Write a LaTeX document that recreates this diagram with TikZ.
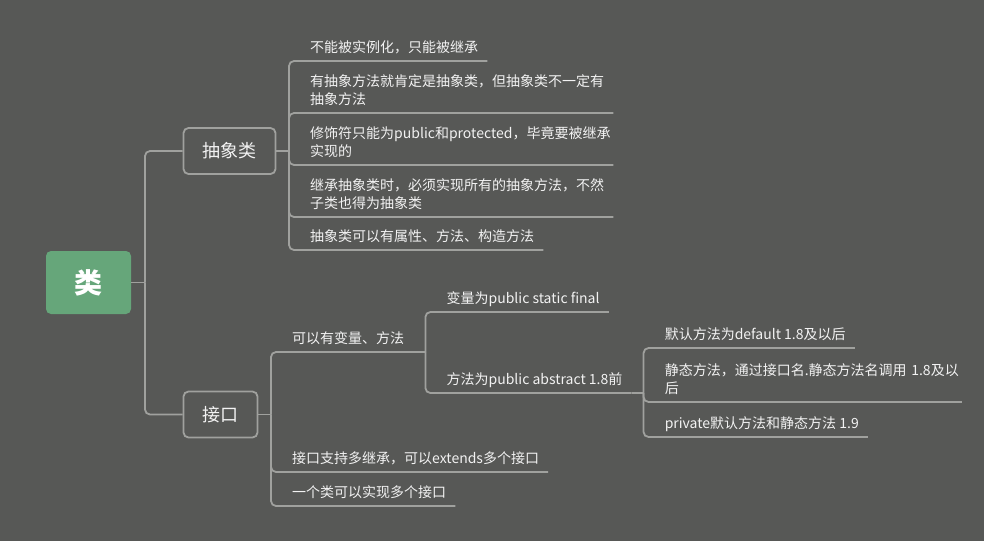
\documentclass[tikz,border=0pt]{standalone}
\usepackage{fontspec}
\setmainfont{Noto Sans CJK SC}
\usepackage{tikz}
\usetikzlibrary{positioning,calc}
\definecolor{bgcol}{RGB}{87,88,86}
\definecolor{linecol}{RGB}{160,161,158}
\definecolor{rootcol}{RGB}{102,166,122}
\definecolor{txtcol}{RGB}{242,242,242}

\begin{document}
\begin{tikzpicture}[
    x=1pt, y=-1pt,
    conn/.style={linecol, line width=1.8pt, rounded corners=5pt},
    root/.style={fill=rootcol, rounded corners=5pt, minimum width=85pt, minimum height=63pt,
        text=white, font=\fontsize{28}{30}\selectfont\bfseries},
    topic/.style={draw=linecol, line width=1.8pt, fill=bgcol, rounded corners=5pt,
        minimum height=46pt, inner xsep=19pt, text=txtcol, font=\fontsize{18}{20}\selectfont},
    leaf/.style={anchor=south west, inner xsep=9pt, inner ysep=5.5pt, text depth=3pt,
        align=left, text=txtcol, font=\fontsize{14}{18}\selectfont},
    wrap/.style={leaf, text width=294pt, text depth=21pt}
]

% 背景
\fill[bgcol] (0,0) rectangle (984,541);
\useasboundingbox (0,0) rectangle (984,541);

% 中心主题
\node[root] (root) at (88.5,282.5) {类};
\coordinate (rootj) at (145,282.5);

% 二级主题
\node[topic] (abs) at (229.5,151) {抽象类};
\node[topic] (itf) at (220.5,414.5) {接口};

\draw[conn] (root.east) -- (rootj);
\draw[conn] (rootj) |- (abs.west);
\draw[conn] (rootj) |- (itf.west);

% 抽象类
\coordinate (absj) at (289,151);
\node[leaf] (a1) at (301,61) {不能被实例化，只能被继承};
\node[wrap] (a2) at (301,113) {有抽象方法就肯定是抽象类，但抽象类不一定有\\抽象方法};
\node[wrap] (a3) at (301,165) {修饰符只能为public和protected，毕竟要被继承\\实现的};
\node[wrap] (a4) at (301,217) {继承抽象类时，必须实现所有的抽象方法，不然\\子类也得为抽象类};
\node[leaf] (a5) at (301,250) {抽象类可以有属性、方法、构造方法};

\draw[conn] (abs.east) -- (absj);
\foreach \n in {a1,a2,a3,a4,a5}
    \draw[conn] (absj) |- (\n.south east);

% 接口
\coordinate (itfj) at (271,414.5);
\node[leaf] (b1) at (283,352) {可以有变量、方法};
\node[leaf] (b2) at (283,472) {接口支持多继承，可以extends多个接口};
\node[leaf] (b3) at (283,506) {一个类可以实现多个接口};

\draw[conn] (itf.east) -- (itfj);
\foreach \n in {b1,b2,b3}
    \draw[conn] (itfj) |- (\n.south east);

% 变量、方法
\coordinate (b1j) at ($(b1.south east)+(12,0)$);
\node[leaf] (c1) at ($(b1j)+(12,-40)$) {变量为public static final};
\node[leaf] (c2) at ($(b1j)+(12,41)$) {方法为public abstract 1.8前};

\draw[conn] (b1.south east) -- (b1j);
\foreach \n in {c1,c2}
    \draw[conn] (b1j) |- (\n.south east);

% 方法的版本
\coordinate (c2j) at ($(c2.south east)+(12,0)$);
\node[leaf] (d1) at ($(c2j)+(12,-45)$) {默认方法为default 1.8及以后};
\node[wrap, text width=288pt] (d2) at ($(c2j)+(12,9)$) {静态方法，通过接口名.静态方法名调用~1.8及以\\后};
\node[leaf] (d3) at ($(c2j)+(12,44)$) {private默认方法和静态方法 1.9};

\draw[conn] (c2.south east) -- (c2j);
\foreach \n in {d1,d2,d3}
    \draw[conn] (c2j) |- (\n.south east);

\end{tikzpicture}
\end{document}
